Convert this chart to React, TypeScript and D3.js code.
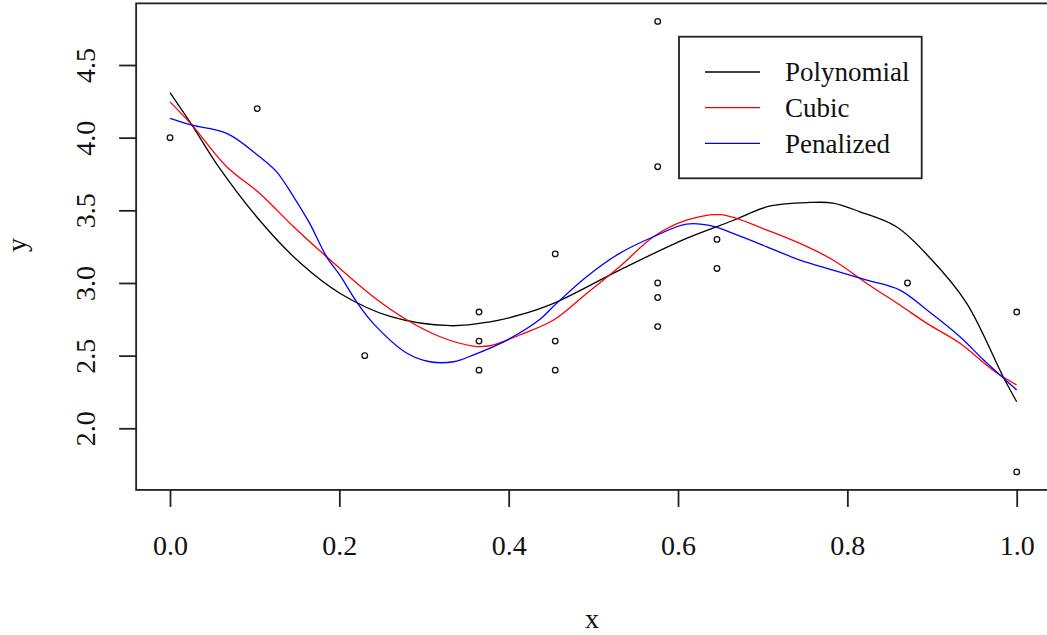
import React, { useEffect, useRef } from 'react';
import * as d3 from 'd3';

// observed data points
const pointX = [0, 0.103, 0.23, 0.365, 0.365, 0.365, 0.455, 0.455, 0.455, 0.576, 0.576, 0.576, 0.576, 0.576, 0.646, 0.646, 0.871, 1, 1];
const pointY = [4.0, 4.2, 2.5, 2.8, 2.6, 2.4, 3.2, 2.6, 2.4, 4.8, 3.8, 3.0, 2.9, 2.7, 3.3, 3.1, 3.0, 2.8, 1.7];

// fitted curves as [x, y]
const polynomial: [number, number][] = [
  [0, 4.31], [0.026, 4.086], [0.055, 3.82], [0.106, 3.43], [0.154, 3.137], [0.201, 2.928],
  [0.26, 2.77], [0.331, 2.706], [0.378, 2.733], [0.413, 2.78], [0.453, 2.86], [0.531, 3.089],
  [0.61, 3.307], [0.665, 3.43], [0.709, 3.53], [0.756, 3.554], [0.783, 3.55],
  [0.815, 3.49], [0.858, 3.387], [0.898, 3.17], [0.941, 2.86], [0.984, 2.355], [1.0, 2.183],
];
const cubic: [number, number][] = [
  [0, 4.246], [0.026, 4.086], [0.067, 3.8], [0.106, 3.616], [0.146, 3.387], [0.185, 3.18],
  [0.24, 2.905], [0.28, 2.745], [0.319, 2.63], [0.358, 2.566], [0.378, 2.568],
  [0.413, 2.642], [0.453, 2.745], [0.492, 2.928], [0.531, 3.111], [0.571, 3.318], [0.61, 3.432],
  [0.65, 3.47], [0.705, 3.364], [0.744, 3.272], [0.783, 3.158], [0.823, 2.997], [0.862, 2.848],
  [0.894, 2.722], [0.933, 2.585], [0.972, 2.4], [1.0, 2.298],
];
const penalized: [number, number][] = [
  [0, 4.132], [0.026, 4.086], [0.067, 4.029], [0.106, 3.868], [0.126, 3.765], [0.146, 3.593],
  [0.165, 3.41], [0.185, 3.18], [0.201, 3.05], [0.221, 2.865], [0.24, 2.722], [0.28, 2.516],
  [0.307, 2.458], [0.335, 2.458], [0.358, 2.504], [0.398, 2.607], [0.437, 2.75], [0.453, 2.84],
  [0.492, 3.043], [0.531, 3.204], [0.571, 3.318], [0.61, 3.405], [0.642, 3.39], [0.665, 3.341],
  [0.705, 3.249], [0.744, 3.158], [0.783, 3.089], [0.823, 3.02], [0.862, 2.951], [0.894, 2.814],
  [0.933, 2.63], [0.961, 2.47], [1.0, 2.263],
];

const legendLabels = ['Polynomial', 'Cubic', 'Penalized'];
const legendColors = ['black', 'red', 'blue'];
const xTicks = [0, 0.2, 0.4, 0.6, 0.8, 1.0];
const yTicks = [2.0, 2.5, 3.0, 3.5, 4.0, 4.5];

const W = 1047;
const H = 635;
const font = '"Liberation Serif", "Times New Roman", serif';

export default function App() {
  const ref = useRef<SVGSVGElement>(null);

  useEffect(() => {
    const svg = d3.select(ref.current);
    svg.selectAll('*').remove();

    const x = d3.scaleLinear().domain([0, 1]).range([170, 1016.7]);
    const y = d3.scaleLinear().domain([2, 4.5]).range([428.3, 65]);

    // plot box (R style, 4% padding)
    svg.append('rect')
      .attr('x', x(-0.04)).attr('y', y(4.924))
      .attr('width', x(1.04) - x(-0.04)).attr('height', y(1.576) - y(4.924))
      .attr('fill', 'none').attr('stroke', '#222').attr('stroke-width', 1.8);

    const fmt = d3.format('.1f');

    const xAxis = svg.append('g')
      .attr('transform', `translate(0, ${y(1.576)})`)
      .call(d3.axisBottom(x).tickValues(xTicks).tickFormat(d => fmt(d as number)).tickSize(17).tickPadding(28));
    xAxis.select('.domain').remove();
    xAxis.selectAll('line').attr('stroke', '#222').attr('stroke-width', 1.8);
    xAxis.selectAll('text').attr('font-family', font).attr('font-size', 28).attr('fill', '#111');

    const yAxis = svg.append('g')
      .attr('transform', `translate(${x(-0.04)}, 0)`)
      .call(d3.axisLeft(y).tickValues(yTicks).tickFormat(d => fmt(d as number)).tickSize(17));
    yAxis.select('.domain').remove();
    yAxis.selectAll('line').attr('stroke', '#222').attr('stroke-width', 1.8);
    yAxis.selectAll('text')
      .attr('font-family', font).attr('font-size', 28).attr('fill', '#111')
      .attr('x', 0).attr('dy', 0)
      .attr('text-anchor', 'middle')
      .attr('transform', 'translate(-41, 0) rotate(-90)');

    // axis titles
    svg.append('text').attr('x', 592).attr('y', 628).attr('text-anchor', 'middle')
      .attr('font-family', font).attr('font-size', 28).attr('fill', '#111').text('x');
    svg.append('text').attr('transform', 'translate(26, 245) rotate(-90)').attr('text-anchor', 'middle')
      .attr('font-family', font).attr('font-size', 28).attr('fill', '#111').text('y');

    // curves
    const line = d3.line<[number, number]>()
      .x(d => x(d[0])).y(d => y(d[1]))
      .curve(d3.curveCatmullRom.alpha(0.5));
    [polynomial, cubic, penalized].forEach((series, i) => {
      svg.append('path').attr('d', line(series))
        .attr('fill', 'none').attr('stroke', legendColors[i]).attr('stroke-width', 1.3);
    });

    // points
    svg.append('g').selectAll('circle')
      .data(pointX.map((px, i) => [px, pointY[i]]))
      .enter().append('circle')
      .attr('cx', d => x(d[0])).attr('cy', d => y(d[1])).attr('r', 2.8)
      .attr('fill', 'none').attr('stroke', '#111').attr('stroke-width', 1.3);

    // legend
    const lg = svg.append('g');
    lg.append('rect').attr('x', 679).attr('y', 36.7).attr('width', 242.7).attr('height', 141.6)
      .attr('fill', 'white').attr('stroke', '#222').attr('stroke-width', 1.8);
    legendLabels.forEach((label, i) => {
      const ly = 72 + i * 35.7;
      lg.append('line').attr('x1', 705).attr('x2', 760).attr('y1', ly).attr('y2', ly)
        .attr('stroke', legendColors[i]).attr('stroke-width', 1.3);
      lg.append('text').attr('x', 785).attr('y', ly).attr('dy', '0.34em')
        .attr('font-family', font).attr('font-size', 27).attr('fill', '#111').text(label);
    });
  }, []);

  return (
    <svg ref={ref} width={W} height={H}
      style={{ position: 'absolute', left: 0, top: 0, background: 'white' }} />
  );
}
